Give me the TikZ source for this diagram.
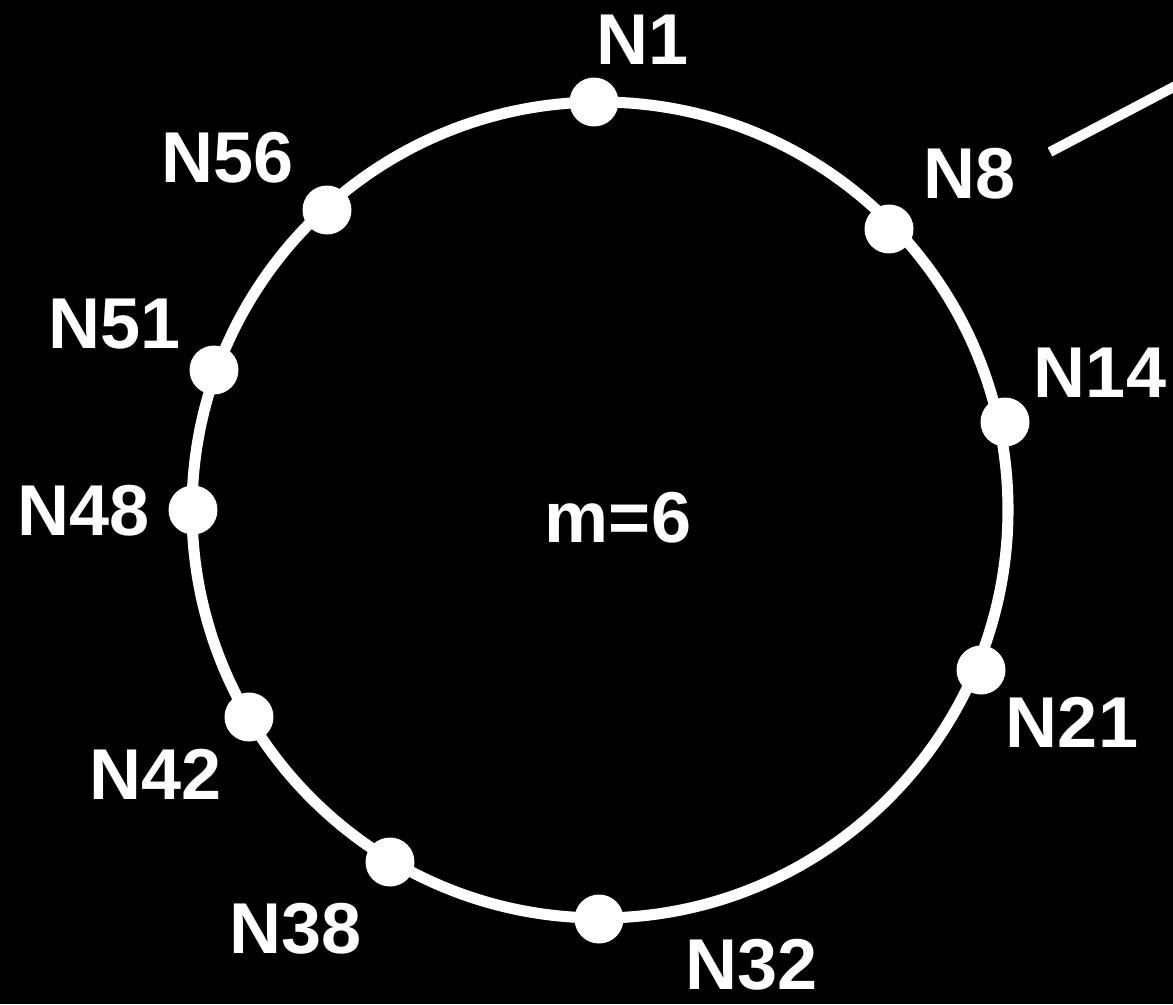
\documentclass[tikz,border=0pt]{standalone}
\usepackage{fontspec}
\setmainfont{Liberation Sans}
\usetikzlibrary{positioning}
\tikzset{
  peer/.style={circle, fill=white, inner sep=0, minimum size=0.98cm},
  peer label/.style={text=white, inner sep=0,
    font=\fontsize{41}{41}\selectfont\bfseries},
  ring/.style={draw=white, line width=6.3pt},
  link/.style={draw=white, line width=5.7pt}
}
\begin{document}
\begin{tikzpicture}[x=0.02cm, y=-0.02cm]

  % ---- page: black ground, fixed size
  \fill[black] (0,0) rectangle (1173,1004);
  \useasboundingbox (0,0) rectangle (1173,1004);

  % ---- the identifier ring
  \coordinate (ctr) at (600,510);
  \draw[ring] (ctr) circle[radius=408];
  \node[peer label] (bits) at (618,518) {m=6};

  % ---- the peers on the ring
  \foreach \id/\px/\py in {1/594/102, 8/889/229, 14/1005/422, 21/981/670,
                           32/599/919, 38/390/862, 42/249/717, 48/193/510,
                           51/214/370, 56/327/210}
    \node[peer] (n\id) at (\px,\py) {};

  % ---- their names
  \node[peer label] (l1)  at (643, 40)  {N1};
  \node[peer label] (l8)  at (970,174)  {N8};
  \node[peer label] (l14) at (1100,373) {N14};
  \node[peer label] (l21) at (1072,722) {N21};
  \node[peer label] (l32) at (752,965)  {N32};
  \node[peer label] (l38) at (296,929)  {N38};
  \node[peer label] (l42) at (156,774)  {N42};
  \node[peer label] (l48) at (84,511)   {N48};
  \node[peer label] (l51) at (115,324)  {N51};
  \node[peer label] (l56) at (228,158)  {N56};

  % ---- the stub leaving N8's label towards the edge
  \coordinate (tail) at (1050,152);
  \coordinate (head) at (1185,81);
  \draw[link] (tail) -- (head);

\end{tikzpicture}
\end{document}
